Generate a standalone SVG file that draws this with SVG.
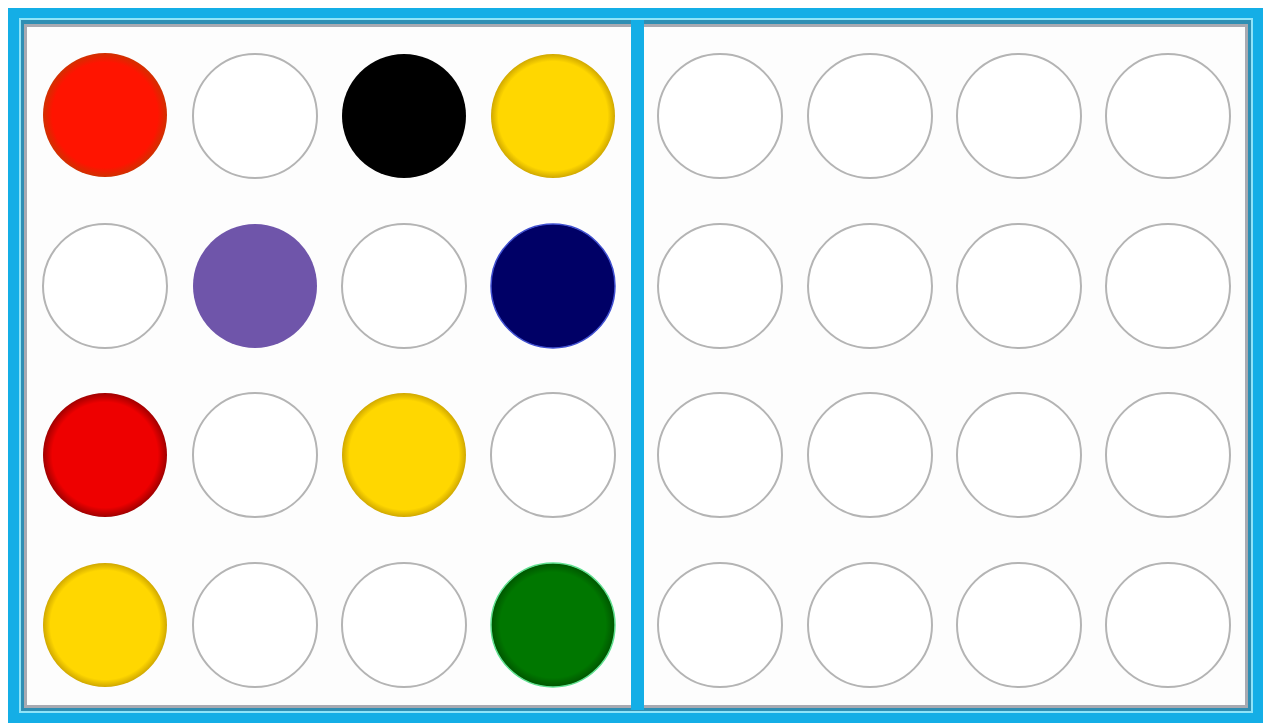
<svg xmlns="http://www.w3.org/2000/svg" width="1263" height="723" viewBox="0 0 1263 723">
<style>
.e{fill:#fff;stroke:#b4b4b4;stroke-width:2}
</style>
<defs>
<radialGradient id="gr" cx="0.5" cy="0.5" r="0.5"><stop offset="0.85" stop-color="#ff1400"/><stop offset="1" stop-color="#d03000"/></radialGradient>
<radialGradient id="gr2" cx="0.5" cy="0.5" r="0.5"><stop offset="0.85" stop-color="#ee0000"/><stop offset="1" stop-color="#a00000"/></radialGradient>
<radialGradient id="gy" cx="0.5" cy="0.5" r="0.5"><stop offset="0.88" stop-color="#ffd700"/><stop offset="1" stop-color="#d0a800"/></radialGradient>
<radialGradient id="gg" cx="0.5" cy="0.5" r="0.5"><stop offset="0.85" stop-color="#007700"/><stop offset="1" stop-color="#005500"/></radialGradient>
</defs>
<rect x="0" y="0" width="1263" height="723" fill="#fff"/>
<g id="frame">
<rect x="8" y="8" width="1255" height="715" fill="#14aee6"/>
<rect x="19" y="18" width="1234" height="695" fill="#8fe4f8"/>
<rect x="21" y="20" width="1230" height="691" fill="#2f8fb4"/>
<rect x="24" y="24" width="1224" height="684" fill="#a8aab2"/>
<rect x="27" y="27" width="1218" height="678" fill="#fdfdfd"/>
<rect x="631" y="20" width="13" height="690" fill="#14aee6"/>
</g>
<g id="left-panel">
<circle id="c-1-1" cx="105" cy="115" r="62" fill="url(#gr)"/>
<circle id="c-1-2" class="e" cx="255" cy="116" r="62"/>
<circle id="c-1-3" cx="404" cy="116" r="62" fill="#000"/>
<circle id="c-1-4" cx="553" cy="116" r="62" fill="url(#gy)"/>
<circle id="c-2-1" class="e" cx="105" cy="286" r="62"/>
<circle id="c-2-2" cx="255" cy="286" r="62" fill="#6f55aa"/>
<circle id="c-2-3" class="e" cx="404" cy="286" r="62"/>
<circle id="c-2-4" cx="553" cy="286" r="62" fill="#000066" stroke="#4050d0" stroke-width="1.5"/>
<circle id="c-3-1" cx="105" cy="455" r="62" fill="url(#gr2)"/>
<circle id="c-3-2" class="e" cx="255" cy="455" r="62"/>
<circle id="c-3-3" cx="404" cy="455" r="62" fill="url(#gy)"/>
<circle id="c-3-4" class="e" cx="553" cy="455" r="62"/>
<circle id="c-4-1" cx="105" cy="625" r="62" fill="url(#gy)"/>
<circle id="c-4-2" class="e" cx="255" cy="625" r="62"/>
<circle id="c-4-3" class="e" cx="404" cy="625" r="62"/>
<circle id="c-4-4" cx="553" cy="625" r="62" fill="url(#gg)" stroke="#60e090" stroke-width="1.5"/>
</g>
<g id="right-panel">
<circle class="e" cx="720" cy="116" r="62"/>
<circle class="e" cx="870" cy="116" r="62"/>
<circle class="e" cx="1019" cy="116" r="62"/>
<circle class="e" cx="1168" cy="116" r="62"/>
<circle class="e" cx="720" cy="286" r="62"/>
<circle class="e" cx="870" cy="286" r="62"/>
<circle class="e" cx="1019" cy="286" r="62"/>
<circle class="e" cx="1168" cy="286" r="62"/>
<circle class="e" cx="720" cy="455" r="62"/>
<circle class="e" cx="870" cy="455" r="62"/>
<circle class="e" cx="1019" cy="455" r="62"/>
<circle class="e" cx="1168" cy="455" r="62"/>
<circle class="e" cx="720" cy="625" r="62"/>
<circle class="e" cx="870" cy="625" r="62"/>
<circle class="e" cx="1019" cy="625" r="62"/>
<circle class="e" cx="1168" cy="625" r="62"/>
</g>
<g id="connectors"/>
</svg>
